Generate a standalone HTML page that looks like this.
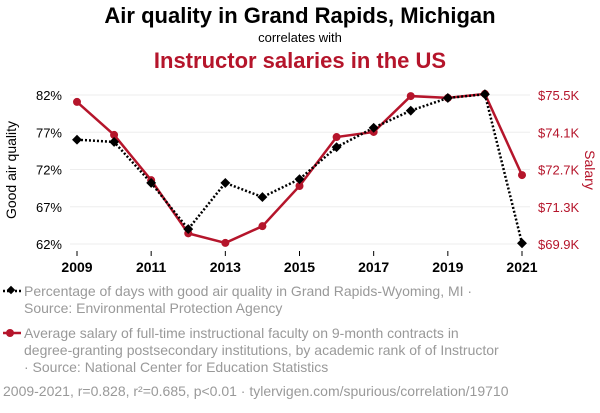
<!DOCTYPE html>
<html><head><meta charset="utf-8"><style>
body{margin:0;background:#fff;width:600px;height:408px;overflow:hidden;font-family:"Liberation Sans",sans-serif}
svg text{font-family:"Liberation Sans",sans-serif}
</style></head><body>
<svg id="c" width="600" height="408">
<text x="300" y="23" text-anchor="middle" font-size="22" font-weight="bold" fill="#000">Air quality in Grand Rapids, Michigan</text>
<text x="300" y="42" text-anchor="middle" font-size="13" fill="#000">correlates with</text>
<text x="300" y="68" text-anchor="middle" font-size="22" font-weight="bold" fill="#b5152b">Instructor salaries in the US</text>
<g id="grid"></g>
<text transform="translate(16,170) rotate(-90)" text-anchor="middle" font-size="14" fill="#000">Good air quality</text>
<text transform="translate(585,170) rotate(90)" text-anchor="middle" font-size="14" fill="#b5152b">Salary</text>
<g id="marks"></g>
<g>
<line x1="3" y1="291" x2="21" y2="291" stroke="#000" stroke-width="2.5" stroke-dasharray="2,2"/>
<rect x="8" y="287" width="6" height="6" transform="rotate(45 11 290)" fill="#000"/>
<text x="24" y="296" font-size="14" fill="#999">Percentage of days with good air quality in Grand Rapids-Wyoming, MI ·</text>
<text x="24" y="313" font-size="14" fill="#999">Source: Environmental Protection Agency</text>
<line x1="3" y1="333" x2="21" y2="333" stroke="#b5152b" stroke-width="2.5"/>
<circle cx="10" cy="333" r="4" fill="#b5152b"/>
<text x="24" y="338" font-size="14" fill="#999">Average salary of full-time instructional faculty on 9-month contracts in</text>
<text x="24" y="355" font-size="14" fill="#999">degree-granting postsecondary institutions, by academic rank of of Instructor</text>
<text x="24" y="372" font-size="14" fill="#999">· Source: National Center for Education Statistics</text>
<text x="3" y="396" font-size="14" fill="#999">2009-2021, r=0.828, r²=0.685, p&lt;0.01 · tylervigen.com/spurious/correlation/19710</text>
</g>
</svg>
<script>
const years=[2009,2010,2011,2012,2013,2014,2015,2016,2017,2018,2019,2020,2021];
const air=[76.0,75.7,70.2,64.0,70.2,68.3,70.7,75.0,77.6,79.9,81.6,82.1,62.1];
const salary=[75.24,74.0,72.3,70.3,69.94,70.57,72.08,73.92,74.11,75.46,75.39,75.54,72.49];
const leftTicks=[62,67,72,77,82];
const rightTicks=[69.9,71.3,72.7,74.1,75.5];
const xTicks=[2009,2011,2013,2015,2017,2019,2021];
const NS="http://www.w3.org/2000/svg";
const x=v=>77+(v-2009)*(522-77)/12;
const yl=v=>244-(v-62)*(149/20);
const yr=v=>244-(v-69.9)*(149/5.6);
function mk(t,a,p){const e=document.createElementNS(NS,t);for(const k in a)e.setAttribute(k,a[k]);p.appendChild(e);return e;}
const g=document.getElementById('grid'),m=document.getElementById('marks');
leftTicks.forEach(v=>{
 mk('line',{x1:70,x2:530,y1:yl(v),y2:yl(v),stroke:'#eee'},g);
 const t=mk('text',{x:62,y:yl(v)+5,'text-anchor':'end','font-size':13,fill:'#000'},g);t.textContent=v+'%';
 
 
});
rightTicks.forEach(v=>{
 const t=mk('text',{x:538,y:yr(v)+5,'font-size':13,fill:'#b5152b'},g);t.textContent='$'+v.toFixed(1)+'K';
 
 
});
xTicks.forEach(v=>{
 mk('line',{x1:x(v),x2:x(v),y1:251,y2:256,stroke:'#000'},g);
 const t=mk('text',{x:x(v),y:272,'text-anchor':'middle','font-size':14,'font-weight':'bold',fill:'#000'},g);t.textContent=v;
 
 
});
const sp=salary.map((v,i)=>x(years[i])+','+yr(v)).join(' ');
const l2=mk('polyline',{points:sp,fill:'none',stroke:'#b5152b','stroke-width':2.5},m);


const ap=air.map((v,i)=>x(years[i])+','+yl(v)).join(' ');
const l1=mk('polyline',{points:ap,fill:'none',stroke:'#000','stroke-width':2.5,'stroke-dasharray':'2,2'},m);


salary.forEach((v,i)=>{
 const c=mk('circle',{cx:x(years[i]),cy:yr(v),r:4,fill:'#b5152b'},m);
 
 
});
air.forEach((v,i)=>{
 const cx=x(years[i]),cy=yl(v);
 const r=mk('rect',{x:cx-3.5,y:cy-3.5,width:7,height:7,fill:'#000',transform:`rotate(45 ${cx} ${cy})`},m);
 
 
});
</script>
</body></html>
